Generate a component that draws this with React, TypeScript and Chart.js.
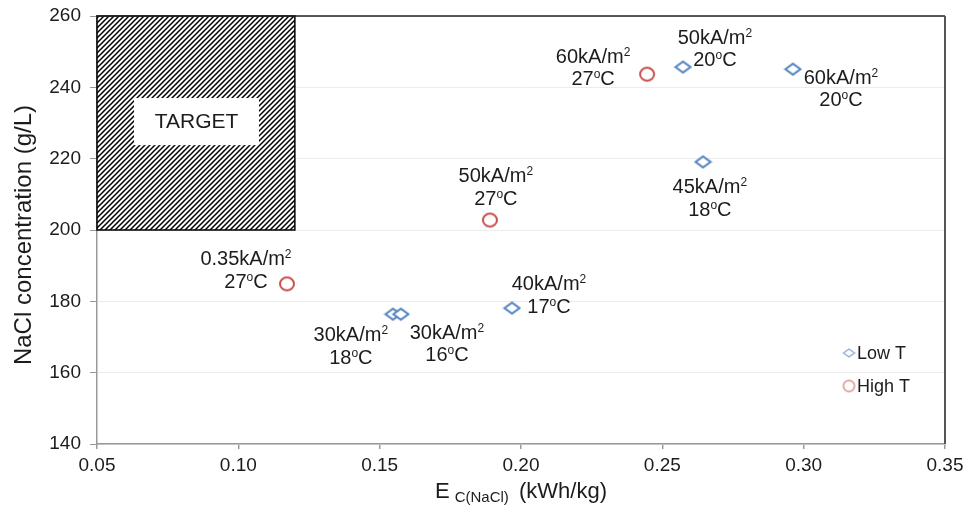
import React, { useEffect, useRef } from "react";
import { Chart, registerables } from "chart.js";

Chart.register(...registerables);

// ---------- data ----------
const LOW_T_X = [0.1547, 0.1575, 0.1968, 0.2644, 0.2573, 0.2962];
const LOW_T_Y = [176.4, 176.4, 178.1, 219.1, 245.7, 245.1];

const HIGH_T_X = [0.1172, 0.189, 0.2446];
const HIGH_T_Y = [184.9, 202.8, 243.7];

const SERIES_NAMES = ["Low T", "High T"];

const X_MIN = 0.05;
const X_MAX = 0.35;
const X_STEP = 0.05;
const Y_MIN = 140;
const Y_MAX = 260;
const Y_STEP = 20;

// annotation labels (centre x, first line y in data units)
const LABEL_LINE1 = ["60kA/m^2", "50kA/m^2", "60kA/m^2", "45kA/m^2", "50kA/m^2", "0.35kA/m^2", "40kA/m^2", "30kA/m^2", "30kA/m^2"];
const LABEL_LINE2 = ["27^oC", "20^oC", "20^oC", "18^oC", "27^oC", "27^oC", "17^oC", "18^oC", "16^oC"];
const LABEL_X = [0.2255, 0.2686, 0.3132, 0.2668, 0.1911, 0.1027, 0.2099, 0.1398, 0.1738];
const LABEL_Y = [248.5, 253.8, 242.6, 211.8, 214.9, 191.6, 184.6, 170.3, 171.1];

// target region
const TARGET_X = [0.05, 0.12];
const TARGET_Y = [200, 260];
const TARGET_TEXT = "TARGET";
const TARGET_LABEL_X = [0.0631, 0.1073];
const TARGET_LABEL_Y = [223.8, 237.0];

const X_TITLE_MAIN = "E";
const X_TITLE_SUB = "C(NaCl)";
const X_TITLE_REST = "(kWh/kg)";
const Y_TITLE = "NaCl concentration (g/L)";

// ---------- styles ----------
const FONT = '"Liberation Sans", Arial, Helvetica, sans-serif';
const BLUE = "#4f81bd";
const RED = "#c8504d";
const TEXT = "#1c1c1c";

function makeDiamond(w: number, h: number, color: string, lw: number) {
  const c = document.createElement("canvas");
  c.width = Math.ceil(w + lw + 2);
  c.height = Math.ceil(h + lw + 2);
  const g = c.getContext("2d")!;
  const cx = c.width / 2;
  const cy = c.height / 2;
  g.lineWidth = lw;
  g.strokeStyle = color;
  g.fillStyle = "#fff";
  g.beginPath();
  g.moveTo(cx - w / 2, cy);
  g.lineTo(cx, cy - h / 2);
  g.lineTo(cx + w / 2, cy);
  g.lineTo(cx, cy + h / 2);
  g.closePath();
  g.fill();
  g.stroke();
  return c;
}

function makeEllipse(w: number, h: number, color: string, lw: number) {
  const c = document.createElement("canvas");
  c.width = Math.ceil(w + lw + 2);
  c.height = Math.ceil(h + lw + 2);
  const g = c.getContext("2d")!;
  g.lineWidth = lw;
  g.strokeStyle = color;
  g.fillStyle = "#fff";
  g.beginPath();
  g.ellipse(c.width / 2, c.height / 2, w / 2, h / 2, 0, 0, Math.PI * 2);
  g.fill();
  g.stroke();
  return c;
}

function makeHatch() {
  const p = document.createElement("canvas");
  p.width = 5;
  p.height = 5;
  const g = p.getContext("2d")!;
  g.fillStyle = "#fff";
  g.fillRect(0, 0, 5, 5);
  g.strokeStyle = "#000";
  g.lineWidth = 1.5;
  g.beginPath();
  g.moveTo(-1, 6);
  g.lineTo(6, -1);
  g.moveTo(-2, 2);
  g.lineTo(2, -2);
  g.moveTo(3, 7);
  g.lineTo(7, 3);
  g.stroke();
  return p;
}

function drawRich(ctx: CanvasRenderingContext2D, text: string, cx: number, cy: number, size: number) {
  const parts: { t: string; sup: boolean }[] = [];
  let buf = "";
  for (let i = 0; i < text.length; i++) {
    if (text[i] === "^") {
      if (buf) parts.push({ t: buf, sup: false });
      buf = "";
      parts.push({ t: text[i + 1], sup: true });
      i++;
    } else buf += text[i];
  }
  if (buf) parts.push({ t: buf, sup: false });
  const supSize = Math.round(size * 0.62);
  let total = 0;
  const widths = parts.map((p) => {
    ctx.font = `${p.sup ? supSize : size}px ${FONT}`;
    const w = ctx.measureText(p.t).width;
    total += w;
    return w;
  });
  let x = cx - total / 2;
  ctx.textAlign = "left";
  ctx.textBaseline = "middle";
  parts.forEach((p, i) => {
    ctx.font = `${p.sup ? supSize : size}px ${FONT}`;
    ctx.fillText(p.t, x, p.sup ? cy - size * 0.24 : cy);
    x += widths[i];
  });
}

export default function App() {
  const ref = useRef<HTMLCanvasElement | null>(null);

  useEffect(() => {
    document.body.style.margin = "0";
    const canvas = ref.current!;
    const diamond = makeDiamond(15, 11, BLUE, 2);
    const circle = makeEllipse(14, 13, RED, 2);
    const legDiamond = makeDiamond(11, 8, "#8eaad6", 1.4);
    const legCircle = makeEllipse(11, 11, "#d98a88", 1.4);
    const hatch = makeHatch();

    const decor = {
      id: "decor",
      beforeDatasetsDraw(chart: any) {
        const ctx = chart.ctx as CanvasRenderingContext2D;
        const xs = chart.scales.x;
        const ys = chart.scales.y;
        // hatched target box
        const x0 = xs.getPixelForValue(TARGET_X[0]);
        const x1 = xs.getPixelForValue(TARGET_X[1]);
        const y0 = ys.getPixelForValue(TARGET_Y[1]);
        const y1 = ys.getPixelForValue(TARGET_Y[0]);
        ctx.save();
        ctx.fillStyle = ctx.createPattern(hatch, "repeat")!;
        ctx.fillRect(x0, y0, x1 - x0, y1 - y0);
        ctx.strokeStyle = "#000";
        ctx.lineWidth = 1.5;
        ctx.strokeRect(x0, y0, x1 - x0, y1 - y0);
        // target label box
        const lx0 = xs.getPixelForValue(TARGET_LABEL_X[0]);
        const lx1 = xs.getPixelForValue(TARGET_LABEL_X[1]);
        const ly0 = ys.getPixelForValue(TARGET_LABEL_Y[1]);
        const ly1 = ys.getPixelForValue(TARGET_LABEL_Y[0]);
        ctx.fillStyle = "#fff";
        ctx.fillRect(lx0, ly0, lx1 - lx0, ly1 - ly0);
        ctx.fillStyle = TEXT;
        ctx.font = `21px ${FONT}`;
        ctx.textAlign = "center";
        ctx.textBaseline = "middle";
        ctx.fillText(TARGET_TEXT, (lx0 + lx1) / 2, (ly0 + ly1) / 2 + 1);
        ctx.restore();
      },
      afterDatasetsDraw(chart: any) {
        const ctx = chart.ctx as CanvasRenderingContext2D;
        const xs = chart.scales.x;
        const ys = chart.scales.y;
        const a = chart.chartArea;
        ctx.save();
        // frame: top and right
        ctx.strokeStyle = "#222";
        ctx.lineWidth = 1.5;
        ctx.beginPath();
        ctx.moveTo(a.left, a.top);
        ctx.lineTo(a.right, a.top);
        ctx.stroke();
        ctx.strokeStyle = "#555";
        ctx.lineWidth = 2;
        ctx.beginPath();
        ctx.moveTo(a.right, a.top);
        ctx.lineTo(a.right, a.bottom);
        ctx.stroke();

        // point annotations
        ctx.fillStyle = TEXT;
        LABEL_LINE1.forEach((l1, i) => {
          const cx = xs.getPixelForValue(LABEL_X[i]);
          const cy = ys.getPixelForValue(LABEL_Y[i]);
          drawRich(ctx, l1, cx, cy, 20);
          drawRich(ctx, LABEL_LINE2[i], cx, cy + 22.5, 20);
        });

        // legend
        const lgX = a.right - 96;
        const lgY = [a.bottom - 91, a.bottom - 58];
        const icons = [legDiamond, legCircle];
        ctx.font = `18px ${FONT}`;
        ctx.textAlign = "left";
        ctx.textBaseline = "middle";
        SERIES_NAMES.forEach((name, i) => {
          const ic = icons[i];
          ctx.drawImage(ic, lgX - ic.width / 2, lgY[i] - ic.height / 2);
          ctx.fillStyle = TEXT;
          ctx.fillText(name, lgX + 8, lgY[i] + 1);
        });

        // x axis title
        ctx.fillStyle = TEXT;
        ctx.textBaseline = "alphabetic";
        const mainFont = `22px ${FONT}`;
        const subFont = `15px ${FONT}`;
        ctx.font = mainFont;
        const wE = ctx.measureText(X_TITLE_MAIN).width;
        const wR = ctx.measureText(X_TITLE_REST).width;
        const wSp = ctx.measureText(" ").width;
        ctx.font = subFont;
        const wS = ctx.measureText(X_TITLE_SUB).width;
        const gap1 = 5;
        const total = wE + gap1 + wS + wSp + 4 + wR;
        let x = (a.left + a.right) / 2 - total / 2;
        const base = a.bottom + 54;
        ctx.font = mainFont;
        ctx.fillText(X_TITLE_MAIN, x, base);
        x += wE + gap1;
        ctx.font = subFont;
        ctx.fillText(X_TITLE_SUB, x, base + 4);
        x += wS + wSp + 4;
        ctx.font = mainFont;
        ctx.fillText(X_TITLE_REST, x, base);

        // y axis title
        ctx.translate(24, (a.top + a.bottom) / 2 + 5);
        ctx.rotate(-Math.PI / 2);
        ctx.font = `24px ${FONT}`;
        ctx.textAlign = "center";
        ctx.textBaseline = "middle";
        ctx.fillText(Y_TITLE, 0, 0);
        ctx.restore();
      },
    };

    const chart = new Chart(canvas, {
      type: "scatter",
      data: {
        datasets: [
          {
            label: SERIES_NAMES[0],
            data: LOW_T_X.map((x, i) => ({ x, y: LOW_T_Y[i] })),
            pointStyle: diamond as any,
            pointRadius: 8,
            borderColor: BLUE,
            backgroundColor: "#fff",
          },
          {
            label: SERIES_NAMES[1],
            data: HIGH_T_X.map((x, i) => ({ x, y: HIGH_T_Y[i] })),
            pointStyle: circle as any,
            pointRadius: 8,
            borderColor: RED,
            backgroundColor: "#fff",
          },
        ],
      },
      options: {
        animation: false,
        responsive: false,
        devicePixelRatio: 1,
        layout: { padding: { top: 16, right: 26, left: 0, bottom: 0 } },
        plugins: {
          legend: { display: false },
          tooltip: { enabled: false },
        },
        scales: {
          x: {
            type: "linear",
            min: X_MIN,
            max: X_MAX,
            afterFit: (s: any) => {
              s.height = 69;
              s.paddingLeft = 0;
              s.paddingRight = 0;
            },
            ticks: {
              stepSize: X_STEP,
              callback: (v: any) => Number(v).toFixed(2),
              font: { family: FONT, size: 19 },
              color: TEXT,
              padding: 5,
            },
            grid: {
              drawOnChartArea: false,
              drawTicks: true,
              tickLength: 5,
              tickColor: "#999",
              lineWidth: 1.5,
            },
            border: { color: "#999", width: 1.5 },
          },
          y: {
            type: "linear",
            min: Y_MIN,
            max: Y_MAX,
            afterFit: (s: any) => {
              s.width = 97;
              s.paddingTop = 0;
              s.paddingBottom = 0;
            },
            ticks: {
              stepSize: Y_STEP,
              font: { family: FONT, size: 19 },
              color: TEXT,
              padding: 9,
            },
            grid: {
              color: "#ececec",
              lineWidth: 1,
              tickLength: 7,
              tickColor: "#999",
            },
            border: { color: "#999", width: 1.5 },
          },
        },
      },
      plugins: [decor],
    } as any);

    return () => chart.destroy();
  }, []);

  return (
    <div style={{ width: 971, height: 513 }}>
      <canvas ref={ref} width={971} height={513} style={{ display: "block" }} />
    </div>
  );
}
